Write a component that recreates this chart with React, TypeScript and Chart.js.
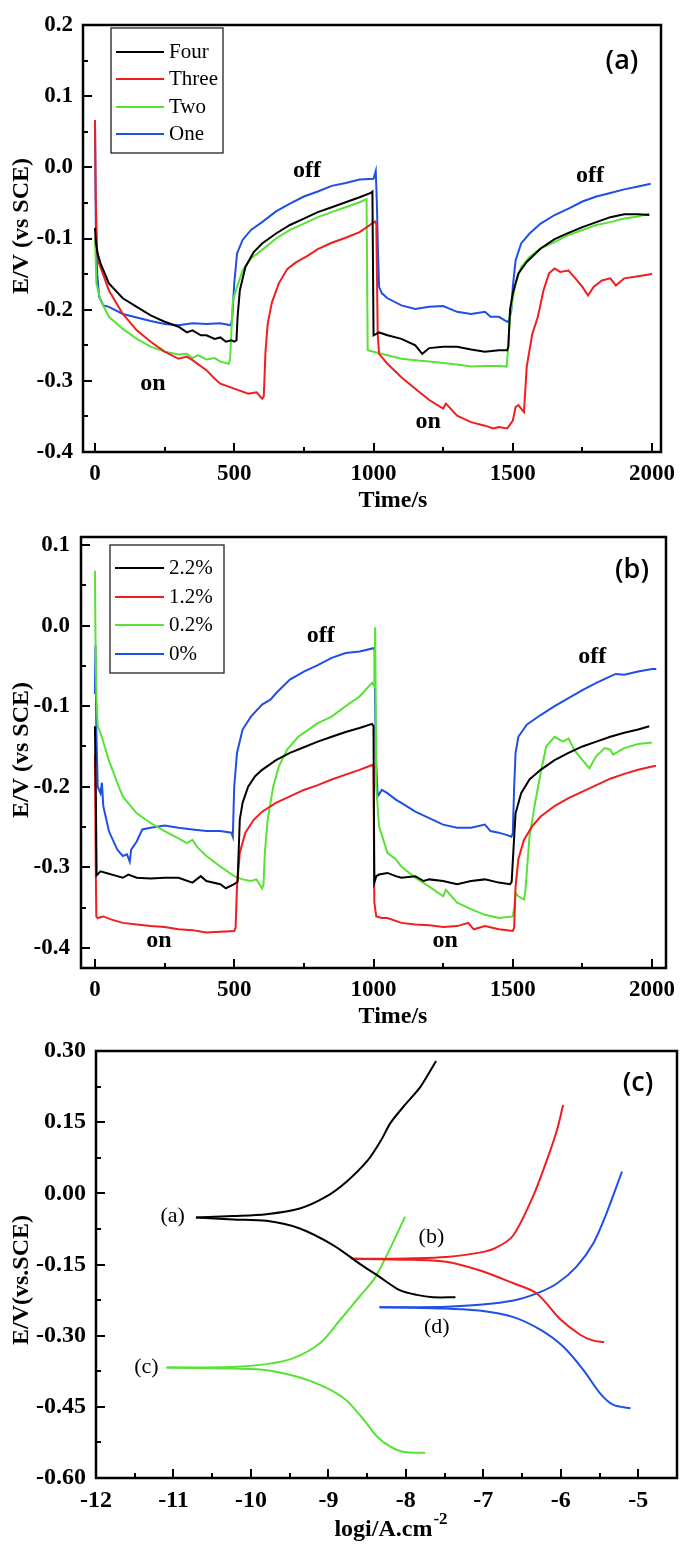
import React, { useEffect, useRef } from "react";
import { Chart, registerables } from "chart.js";

Chart.register(...registerables);

const SERIF = '"Liberation Serif", "Times New Roman", Times, serif';
const SANS = '"Open Sans", "Noto Sans", sans-serif';

const COLOR_BLACK = "#000000";
const COLOR_RED = "#f01e1e";
const COLOR_GREEN = "#58e236";
const COLOR_BLUE = "#1e50e6";

// ---------------- Panel (a) ----------------
const A_SERIES = ["Four", "Three", "Two", "One"];
const A_X_TICKS = [0, 500, 1000, 1500, 2000];
const A_X_MINOR = [250, 750, 1250, 1750];
const A_Y_TICKS = [0.2, 0.1, 0, -0.1, -0.2, -0.3, -0.4];
const A_Y_MINOR = [0.15, 0.05, -0.05, -0.15, -0.25, -0.35];

const A_FOUR_T = [0, 3, 10, 20, 50, 100, 150, 200, 250, 300, 330, 350, 380, 400, 430, 450, 470, 490, 500, 508, 512, 520, 540, 570, 600, 650, 700, 750, 800, 850, 900, 950, 990, 996, 1000, 1020, 1050, 1100, 1150, 1175, 1200, 1250, 1300, 1350, 1400, 1450, 1480, 1484, 1490, 1500, 1520, 1550, 1600, 1650, 1700, 1750, 1800, 1850, 1900, 1950, 1990];
const A_FOUR_E = [-0.085, -0.105, -0.122, -0.135, -0.163, -0.184, -0.196, -0.208, -0.217, -0.224, -0.232, -0.229, -0.236, -0.236, -0.241, -0.239, -0.245, -0.243, -0.245, -0.243, -0.21, -0.173, -0.14, -0.119, -0.107, -0.093, -0.081, -0.072, -0.063, -0.056, -0.049, -0.042, -0.036, -0.034, -0.236, -0.232, -0.236, -0.241, -0.25, -0.262, -0.254, -0.252, -0.252, -0.256, -0.259, -0.257, -0.257, -0.252, -0.2, -0.177, -0.149, -0.133, -0.114, -0.101, -0.092, -0.084, -0.077, -0.07, -0.066, -0.066, -0.067];

const A_THREE_T = [0, 3, 8, 15, 50, 100, 150, 200, 250, 300, 330, 350, 400, 430, 450, 500, 550, 580, 600, 606, 612, 620, 635, 660, 690, 720, 760, 800, 850, 900, 950, 980, 1005, 1010, 1015, 1020, 1050, 1100, 1150, 1200, 1250, 1260, 1300, 1350, 1400, 1430, 1450, 1480, 1500, 1510, 1520, 1540, 1550, 1570, 1590, 1610, 1630, 1650, 1670, 1700, 1720, 1750, 1770, 1790, 1820, 1850, 1870, 1900, 1950, 2000];
const A_THREE_E = [0.066, -0.05, -0.12, -0.135, -0.173, -0.206, -0.229, -0.245, -0.259, -0.269, -0.266, -0.271, -0.285, -0.297, -0.304, -0.311, -0.318, -0.316, -0.325, -0.322, -0.26, -0.22, -0.19, -0.163, -0.143, -0.134, -0.125, -0.115, -0.106, -0.099, -0.091, -0.083, -0.076, -0.08, -0.234, -0.262, -0.276, -0.295, -0.311, -0.327, -0.339, -0.332, -0.349, -0.358, -0.363, -0.367, -0.365, -0.367, -0.356, -0.337, -0.334, -0.344, -0.28, -0.234, -0.21, -0.173, -0.149, -0.142, -0.147, -0.145, -0.154, -0.168, -0.18, -0.168, -0.159, -0.156, -0.166, -0.156, -0.153, -0.15];

const A_TWO_T = [0, 5, 20, 50, 100, 150, 200, 250, 300, 330, 350, 370, 400, 430, 450, 480, 485, 495, 510, 530, 560, 600, 650, 700, 750, 800, 850, 900, 950, 975, 979, 1000, 1050, 1100, 1150, 1200, 1250, 1300, 1350, 1400, 1450, 1478, 1482, 1490, 1510, 1530, 1560, 1600, 1650, 1700, 1750, 1800, 1850, 1900, 1950, 1990];
const A_TWO_E = [-0.1, -0.163, -0.187, -0.21, -0.227, -0.241, -0.252, -0.259, -0.263, -0.262, -0.268, -0.264, -0.27, -0.268, -0.273, -0.276, -0.27, -0.187, -0.168, -0.145, -0.128, -0.116, -0.1, -0.088, -0.079, -0.07, -0.063, -0.056, -0.049, -0.045, -0.257, -0.259, -0.264, -0.269, -0.271, -0.273, -0.275, -0.277, -0.28, -0.279, -0.279, -0.28, -0.26, -0.206, -0.163, -0.14, -0.126, -0.114, -0.105, -0.095, -0.088, -0.081, -0.077, -0.072, -0.069, -0.065];

const A_ONE_T = [0, 3, 8, 15, 30, 50, 100, 150, 200, 250, 300, 350, 400, 450, 488, 493, 500, 510, 530, 560, 600, 650, 700, 750, 800, 850, 900, 950, 1000, 1008, 1012, 1016, 1020, 1030, 1050, 1100, 1150, 1200, 1250, 1300, 1350, 1400, 1420, 1450, 1480, 1487, 1495, 1500, 1510, 1530, 1560, 1600, 1650, 1700, 1750, 1800, 1850, 1900, 1950, 1995];
const A_ONE_E = [0.066, -0.08, -0.15, -0.182, -0.194, -0.196, -0.206, -0.211, -0.216, -0.22, -0.222, -0.219, -0.22, -0.219, -0.222, -0.21, -0.163, -0.121, -0.102, -0.088, -0.077, -0.062, -0.051, -0.041, -0.034, -0.026, -0.022, -0.017, -0.016, -0.005, -0.05, -0.12, -0.168, -0.177, -0.184, -0.194, -0.199, -0.196, -0.195, -0.203, -0.206, -0.203, -0.21, -0.21, -0.217, -0.215, -0.2, -0.168, -0.131, -0.107, -0.093, -0.079, -0.067, -0.058, -0.048, -0.041, -0.036, -0.031, -0.027, -0.023];

// ---------------- Panel (b) ----------------
const B_SERIES = ["2.2%", "1.2%", "0.2%", "0%"];
const B_X_TICKS = [0, 500, 1000, 1500, 2000];
const B_X_MINOR = [250, 750, 1250, 1750];
const B_Y_TICKS = [0.1, 0, -0.1, -0.2, -0.3, -0.4];
const B_Y_MINOR = [0.05, -0.05, -0.15, -0.25, -0.35];

const B_22_T = [0, 3, 6, 20, 50, 80, 100, 120, 150, 200, 250, 300, 350, 380, 400, 450, 470, 500, 512, 516, 520, 530, 550, 575, 600, 650, 700, 750, 800, 850, 900, 950, 995, 1000, 1003, 1010, 1020, 1050, 1080, 1100, 1150, 1180, 1200, 1250, 1300, 1350, 1400, 1450, 1490, 1496, 1505, 1510, 1530, 1560, 1600, 1650, 1700, 1750, 1800, 1850, 1900, 1950, 1990];
const B_22_E = [-0.125, -0.2, -0.31, -0.305, -0.308, -0.311, -0.313, -0.309, -0.313, -0.314, -0.313, -0.313, -0.319, -0.311, -0.317, -0.321, -0.326, -0.321, -0.318, -0.28, -0.241, -0.22, -0.2, -0.187, -0.179, -0.167, -0.158, -0.151, -0.144, -0.138, -0.132, -0.127, -0.122, -0.125, -0.319, -0.311, -0.309, -0.307, -0.311, -0.313, -0.311, -0.317, -0.315, -0.317, -0.321, -0.317, -0.315, -0.319, -0.321, -0.318, -0.262, -0.233, -0.208, -0.191, -0.179, -0.167, -0.158, -0.15, -0.144, -0.138, -0.133, -0.129, -0.125];

const B_12_T = [0, 3, 5, 10, 30, 60, 100, 150, 200, 250, 300, 350, 400, 450, 500, 505, 510, 520, 540, 570, 600, 650, 700, 750, 800, 850, 900, 950, 995, 1000, 1003, 1010, 1030, 1050, 1100, 1150, 1200, 1250, 1300, 1340, 1360, 1400, 1450, 1500, 1505, 1510, 1520, 1540, 1570, 1600, 1650, 1700, 1750, 1800, 1850, 1900, 1950, 2000, 2014];
const B_12_E = [-0.16, -0.3, -0.361, -0.363, -0.361, -0.365, -0.369, -0.371, -0.373, -0.374, -0.377, -0.378, -0.381, -0.38, -0.379, -0.375, -0.324, -0.282, -0.257, -0.241, -0.231, -0.22, -0.212, -0.204, -0.198, -0.191, -0.185, -0.179, -0.173, -0.175, -0.344, -0.361, -0.363, -0.363, -0.369, -0.371, -0.372, -0.374, -0.373, -0.369, -0.377, -0.373, -0.377, -0.379, -0.375, -0.324, -0.29, -0.266, -0.249, -0.237, -0.224, -0.214, -0.206, -0.198, -0.19, -0.184, -0.179, -0.175, -0.174];

const B_02_T = [0, 2, 5, 10, 20, 50, 80, 100, 150, 200, 250, 300, 330, 350, 370, 400, 450, 500, 530, 560, 580, 600, 605, 610, 620, 640, 660, 690, 730, 800, 850, 900, 950, 995, 1003, 1006, 1010, 1020, 1050, 1080, 1100, 1150, 1200, 1250, 1260, 1300, 1350, 1400, 1450, 1500, 1505, 1510, 1520, 1540, 1545, 1560, 1580, 1600, 1620, 1650, 1680, 1700, 1720, 1750, 1775, 1800, 1830, 1850, 1860, 1900, 1950, 2000];
const B_02_E = [0.068, -0.014, -0.084, -0.125, -0.133, -0.167, -0.195, -0.212, -0.233, -0.245, -0.255, -0.264, -0.27, -0.266, -0.276, -0.286, -0.299, -0.311, -0.315, -0.317, -0.315, -0.326, -0.322, -0.282, -0.241, -0.2, -0.175, -0.154, -0.138, -0.121, -0.113, -0.1, -0.088, -0.071, -0.075, -0.002, -0.2, -0.249, -0.282, -0.29, -0.299, -0.313, -0.324, -0.336, -0.328, -0.344, -0.352, -0.359, -0.363, -0.361, -0.35, -0.332, -0.336, -0.34, -0.33, -0.262, -0.22, -0.183, -0.15, -0.138, -0.144, -0.14, -0.154, -0.167, -0.177, -0.162, -0.152, -0.154, -0.16, -0.152, -0.147, -0.145];

const B_0_T = [0, 2, 5, 10, 20, 25, 30, 50, 80, 100, 115, 125, 130, 150, 170, 200, 250, 300, 350, 400, 450, 490, 495, 500, 510, 530, 560, 600, 630, 650, 700, 750, 800, 850, 900, 950, 1000, 1004, 1008, 1015, 1030, 1050, 1080, 1100, 1150, 1200, 1250, 1300, 1350, 1400, 1420, 1450, 1480, 1495, 1500, 1505, 1510, 1520, 1550, 1600, 1650, 1700, 1750, 1800, 1850, 1870, 1900, 1950, 2000, 2015];
const B_0_E = [-0.085, -0.025, -0.13, -0.2, -0.208, -0.195, -0.224, -0.255, -0.278, -0.286, -0.284, -0.293, -0.278, -0.268, -0.253, -0.251, -0.248, -0.251, -0.253, -0.255, -0.255, -0.257, -0.262, -0.2, -0.158, -0.129, -0.113, -0.098, -0.092, -0.084, -0.067, -0.057, -0.049, -0.04, -0.034, -0.032, -0.028, -0.03, -0.158, -0.212, -0.204, -0.208, -0.216, -0.22, -0.231, -0.239, -0.247, -0.251, -0.251, -0.247, -0.255, -0.257, -0.26, -0.262, -0.258, -0.2, -0.158, -0.138, -0.123, -0.111, -0.1, -0.09, -0.08, -0.071, -0.063, -0.06, -0.061, -0.057, -0.054, -0.054];

// ---------------- Panel (c) ----------------
const C_X_TICKS = [-12, -11, -10, -9, -8, -7, -6, -5];
const C_X_MINOR = [-11.5, -10.5, -9.5, -8.5, -7.5, -6.5, -5.5];
const C_Y_TICKS = [0.3, 0.15, 0, -0.15, -0.3, -0.45, -0.6];
const C_Y_MINOR = [0.225, 0.075, -0.075, -0.225, -0.375, -0.525];

const C_A_ANODIC_X = [-10.71, -10.23, -9.8, -9.37, -9.03, -8.77, -8.49, -8.32, -8.2, -8.03, -7.81, -7.61];
const C_A_ANODIC_Y = [-0.051, -0.048, -0.044, -0.032, -0.007, 0.024, 0.07, 0.112, 0.148, 0.183, 0.225, 0.279];
const C_A_CATHODIC_X = [-10.71, -10.23, -9.8, -9.37, -8.94, -8.6, -8.34, -8.08, -7.86, -7.65, -7.36];
const C_A_CATHODIC_Y = [-0.051, -0.055, -0.058, -0.074, -0.109, -0.148, -0.176, -0.204, -0.214, -0.219, -0.219];

const C_B_ANODIC_X = [-8.7, -8.34, -7.91, -7.48, -7.05, -6.84, -6.62, -6.36, -6.18, -6.05, -5.97];
const C_B_ANODIC_Y = [-0.138, -0.138, -0.137, -0.134, -0.125, -0.115, -0.09, -0.007, 0.07, 0.133, 0.186];
const C_B_CATHODIC_X = [-8.7, -8.34, -7.91, -7.48, -7.05, -6.62, -6.31, -6.01, -5.75, -5.59, -5.44];
const C_B_CATHODIC_Y = [-0.138, -0.139, -0.14, -0.144, -0.162, -0.189, -0.211, -0.265, -0.298, -0.31, -0.314];

const C_C_ANODIC_X = [-11.09, -10.24, -9.8, -9.46, -9.11, -8.85, -8.6, -8.42, -8.3, -8.17, -8.01];
const C_C_ANODIC_Y = [-0.367, -0.366, -0.36, -0.348, -0.316, -0.267, -0.218, -0.183, -0.148, -0.105, -0.049];
const C_C_CATHODIC_X = [-11.09, -10.41, -9.85, -9.39, -9.05, -8.77, -8.54, -8.37, -8.2, -8.03, -7.75];
const C_C_CATHODIC_Y = [-0.367, -0.369, -0.372, -0.387, -0.408, -0.436, -0.478, -0.513, -0.534, -0.545, -0.547];

const C_D_ANODIC_X = [-8.34, -7.91, -7.48, -7.05, -6.61, -6.31, -6.05, -5.8, -5.58, -5.41, -5.21];
const C_D_ANODIC_Y = [-0.24, -0.24, -0.239, -0.235, -0.226, -0.211, -0.19, -0.155, -0.105, -0.042, 0.046];
const C_D_CATHODIC_X = [-8.34, -7.91, -7.48, -7.05, -6.61, -6.26, -5.97, -5.71, -5.49, -5.32, -5.1];
const C_D_CATHODIC_Y = [-0.24, -0.241, -0.243, -0.247, -0.261, -0.288, -0.323, -0.372, -0.422, -0.446, -0.453];

// ---------------- helpers ----------------
function series(label: string, color: string, xs: number[], ys: number[], tension = 0) {
  return {
    label,
    data: xs.map((x, i) => ({ x, y: ys[i] })),
    borderColor: color,
    backgroundColor: color,
    borderWidth: 2,
    pointRadius: 0,
    showLine: true,
    fill: false,
    tension,
  };
}

const paperFrame = {
  id: "paperFrame",
  afterDraw(chart: any) {
    const o = chart.options.plugins.paperFrame;
    if (!o) return;
    const ctx = chart.ctx;
    const a = chart.chartArea;
    const sx = chart.scales.x;
    const sy = chart.scales.y;
    ctx.save();
    ctx.strokeStyle = "#000";
    ctx.fillStyle = "#000";
    ctx.lineWidth = 2;
    const tickX = (vals: number[], len: number) => {
      for (const v of vals) {
        const p = Math.round(sx.getPixelForValue(v));
        ctx.beginPath();
        ctx.moveTo(p, a.bottom);
        ctx.lineTo(p, a.bottom - len);
        ctx.stroke();
      }
    };
    const tickY = (vals: number[], len: number) => {
      for (const v of vals) {
        const p = Math.round(sy.getPixelForValue(v));
        ctx.beginPath();
        ctx.moveTo(a.left, p);
        ctx.lineTo(a.left + len, p);
        ctx.stroke();
      }
    };
    tickX(o.xMajor, 9);
    tickX(o.xMinor, 5);
    tickY(o.yMajor, 9);
    tickY(o.yMinor, 5);
    ctx.lineWidth = 2.5;
    ctx.strokeRect(a.left, a.top, a.right - a.left, a.bottom - a.top);

    // legend
    if (o.legend) {
      const L = o.legend;
      ctx.lineWidth = 1.3;
      ctx.strokeStyle = "#222";
      ctx.strokeRect(L.left, L.top, L.right - L.left, L.bottom - L.top);
      ctx.font = L.font;
      ctx.textAlign = "left";
      ctx.textBaseline = "middle";
      chart.data.datasets.forEach((d: any, i: number) => {
        const y = L.rowY[i];
        ctx.strokeStyle = d.borderColor;
        ctx.lineWidth = 2;
        ctx.beginPath();
        ctx.moveTo(L.lineX1, y);
        ctx.lineTo(L.lineX2, y);
        ctx.stroke();
        ctx.fillStyle = "#000";
        ctx.fillText(d.label, L.textX, y);
      });
    }

    // notes placed at data coordinates
    ctx.fillStyle = "#000";
    ctx.textAlign = "center";
    for (const n of o.notes) {
      ctx.font = n.font;
      ctx.textBaseline = n.baseline;
      ctx.fillText(n.text, sx.getPixelForValue(n.x), sy.getPixelForValue(n.y));
    }

    // panel label
    if (o.panelLabel) {
      const P = o.panelLabel;
      ctx.font = P.font;
      ctx.textAlign = "center";
      ctx.textBaseline = "middle";
      ctx.fillText(P.text, P.x, P.y);
    }

    // x title
    if (o.xTitle) {
      const T = o.xTitle;
      ctx.textBaseline = "middle";
      if (T.sup) {
        ctx.font = T.font;
        const wm = ctx.measureText(T.text).width;
        ctx.font = T.supFont;
        const ws = ctx.measureText(T.sup).width;
        const start = T.x - (wm + ws + 1) / 2;
        ctx.textAlign = "left";
        ctx.font = T.font;
        ctx.fillText(T.text, start, T.y);
        ctx.font = T.supFont;
        ctx.fillText(T.sup, start + wm + 1, T.y - T.supRise);
      } else {
        ctx.font = T.font;
        ctx.textAlign = "center";
        ctx.fillText(T.text, T.x, T.y);
      }
    }

    // y title
    if (o.yTitle) {
      const T = o.yTitle;
      ctx.save();
      ctx.translate(T.x, T.y);
      ctx.rotate(-Math.PI / 2);
      ctx.font = T.font;
      ctx.textAlign = "center";
      ctx.textBaseline = "middle";
      ctx.fillText(T.text, 0, 0);
      ctx.restore();
    }
    ctx.restore();
  },
};

function buildConfig(p: any) {
  return {
    type: "scatter",
    data: { datasets: p.datasets },
    options: {
      responsive: false,
      animation: false,
      events: [],
      layout: { padding: { left: 0, right: p.padRight, top: p.padTop, bottom: 0 } },
      plugins: {
        legend: { display: false },
        tooltip: { enabled: false },
        title: { display: false },
        paperFrame: p.frame,
      },
      scales: {
        x: {
          type: "linear",
          position: "bottom",
          min: p.xMin,
          max: p.xMax,
          grid: { display: false, drawTicks: false },
          border: { display: false },
          ticks: {
            autoSkip: false,
            maxRotation: 0,
            minRotation: 0,
            padding: p.xTickPad,
            color: "#000",
            font: { family: SERIF, size: p.xTickSize, weight: "bold" },
            callback: (v: any) => p.xFmt(Number(v)),
          },
          afterBuildTicks: (s: any) => {
            s.ticks = p.xTicks.map((v: number) => ({ value: v }));
          },
          afterFit: (s: any) => {
            s.height = p.xAxisH;
            s.paddingLeft = 0;
            s.paddingRight = 0;
          },
        },
        y: {
          type: "linear",
          position: "left",
          min: p.yMin,
          max: p.yMax,
          grid: { display: false, drawTicks: false },
          border: { display: false },
          ticks: {
            autoSkip: false,
            padding: p.yTickPad,
            color: "#000",
            font: { family: SERIF, size: p.yTickSize, weight: "bold" },
            callback: (v: any) => p.yFmt(Number(v)),
          },
          afterBuildTicks: (s: any) => {
            s.ticks = p.yTicks.map((v: number) => ({ value: v }));
          },
          afterFit: (s: any) => {
            s.width = p.yAxisW;
            s.paddingTop = 0;
            s.paddingBottom = 0;
          },
        },
      },
    },
    plugins: [paperFrame],
  } as any;
}

const BOLD_NOTE = `bold 24px ${SERIF}`;
const REG_NOTE = `22px ${SERIF}`;
const PANEL_FONT = `600 27px ${SANS}`;

function buildA() {
  return buildConfig({
    datasets: [
      series(A_SERIES[0], COLOR_BLACK, A_FOUR_T, A_FOUR_E),
      series(A_SERIES[1], COLOR_RED, A_THREE_T, A_THREE_E),
      series(A_SERIES[2], COLOR_GREEN, A_TWO_T, A_TWO_E),
      series(A_SERIES[3], COLOR_BLUE, A_ONE_T, A_ONE_E),
    ],
    padTop: 25,
    padRight: 24,
    xAxisH: 68,
    yAxisW: 83,
    xMin: -43,
    xMax: 2032,
    yMin: -0.4,
    yMax: 0.2,
    xTicks: A_X_TICKS,
    yTicks: A_Y_TICKS,
    xTickSize: 23,
    yTickSize: 23,
    xTickPad: 8,
    yTickPad: 10,
    xFmt: (v: number) => String(v),
    yFmt: (v: number) => v.toFixed(1),
    frame: {
      xMajor: A_X_TICKS,
      xMinor: A_X_MINOR,
      yMajor: A_Y_TICKS,
      yMinor: A_Y_MINOR,
      legend: { left: 111, top: 28, right: 223, bottom: 153, rowY: [52, 79, 107, 134], lineX1: 116, lineX2: 164, textX: 169, font: `21px ${SERIF}` },
      notes: [
        { text: "off", x: 761, y: -0.013, font: BOLD_NOTE, baseline: "alphabetic" },
        { text: "off", x: 1777, y: -0.02, font: BOLD_NOTE, baseline: "alphabetic" },
        { text: "on", x: 208, y: -0.313, font: BOLD_NOTE, baseline: "alphabetic" },
        { text: "on", x: 1196, y: -0.366, font: BOLD_NOTE, baseline: "alphabetic" },
      ],
      panelLabel: { text: "(a)", x: 622, y: 61, font: PANEL_FONT },
      xTitle: { text: "Time/s", x: 393, y: 501, font: `bold 24px ${SERIF}` },
      yTitle: { text: "E/V (vs SCE)", x: 22, y: 226, font: `bold 24px ${SERIF}` },
    },
  });
}

function buildB() {
  return buildConfig({
    datasets: [
      series(B_SERIES[0], COLOR_BLACK, B_22_T, B_22_E),
      series(B_SERIES[1], COLOR_RED, B_12_T, B_12_E),
      series(B_SERIES[2], COLOR_GREEN, B_02_T, B_02_E),
      series(B_SERIES[3], COLOR_BLUE, B_0_T, B_0_E),
    ],
    padTop: 17,
    padRight: 19,
    xAxisH: 72,
    yAxisW: 81,
    xMin: -50,
    xMax: 2050,
    yMin: -0.425,
    yMax: 0.11,
    xTicks: B_X_TICKS,
    yTicks: B_Y_TICKS,
    xTickSize: 23,
    yTickSize: 23,
    xTickPad: 8,
    yTickPad: 11,
    xFmt: (v: number) => String(v),
    yFmt: (v: number) => v.toFixed(1),
    frame: {
      xMajor: B_X_TICKS,
      xMinor: B_X_MINOR,
      yMajor: B_Y_TICKS,
      yMinor: B_Y_MINOR,
      legend: { left: 110, top: 25, right: 224, bottom: 153, rowY: [48, 77, 105, 134], lineX1: 115, lineX2: 164, textX: 169, font: `21px ${SERIF}` },
      notes: [
        { text: "off", x: 811, y: -0.02, font: BOLD_NOTE, baseline: "alphabetic" },
        { text: "off", x: 1785, y: -0.047, font: BOLD_NOTE, baseline: "alphabetic" },
        { text: "on", x: 230, y: -0.399, font: BOLD_NOTE, baseline: "alphabetic" },
        { text: "on", x: 1257, y: -0.399, font: BOLD_NOTE, baseline: "alphabetic" },
      ],
      panelLabel: { text: "(b)", x: 632, y: 50, font: PANEL_FONT },
      xTitle: { text: "Time/s", x: 393, y: 497, font: `bold 24px ${SERIF}` },
      yTitle: { text: "E/V (vs SCE)", x: 22, y: 230, font: `bold 24px ${SERIF}` },
    },
  });
}

function buildC() {
  const t = 0.3;
  return buildConfig({
    datasets: [
      series("(a)", COLOR_BLACK, C_A_ANODIC_X, C_A_ANODIC_Y, t),
      series("(a)", COLOR_BLACK, C_A_CATHODIC_X, C_A_CATHODIC_Y, t),
      series("(b)", COLOR_RED, C_B_ANODIC_X, C_B_ANODIC_Y, t),
      series("(b)", COLOR_RED, C_B_CATHODIC_X, C_B_CATHODIC_Y, t),
      series("(c)", COLOR_GREEN, C_C_ANODIC_X, C_C_ANODIC_Y, t),
      series("(c)", COLOR_GREEN, C_C_CATHODIC_X, C_C_CATHODIC_Y, t),
      series("(d)", COLOR_BLUE, C_D_ANODIC_X, C_D_ANODIC_Y, t),
      series("(d)", COLOR_BLUE, C_D_CATHODIC_X, C_D_CATHODIC_Y, t),
    ],
    padTop: 11,
    padRight: 8,
    xAxisH: 68,
    yAxisW: 96,
    xMin: -12,
    xMax: -4.5,
    yMin: -0.6,
    yMax: 0.3,
    xTicks: C_X_TICKS,
    yTicks: C_Y_TICKS,
    xTickSize: 24,
    yTickSize: 24,
    xTickPad: 8,
    yTickPad: 10,
    xFmt: (v: number) => String(v),
    yFmt: (v: number) => v.toFixed(2),
    frame: {
      xMajor: C_X_TICKS,
      xMinor: C_X_MINOR,
      yMajor: C_Y_TICKS,
      yMinor: C_Y_MINOR,
      legend: null,
      notes: [
        { text: "(a)", x: -11.01, y: -0.048, font: REG_NOTE, baseline: "middle" },
        { text: "(b)", x: -7.67, y: -0.093, font: REG_NOTE, baseline: "middle" },
        { text: "(c)", x: -11.35, y: -0.367, font: REG_NOTE, baseline: "middle" },
        { text: "(d)", x: -7.6, y: -0.283, font: REG_NOTE, baseline: "middle" },
      ],
      panelLabel: { text: "(c)", x: 638, y: 43, font: PANEL_FONT },
      xTitle: { text: "logi/A.cm", sup: "-2", x: 391, y: 490, font: `bold 24px ${SERIF}`, supFont: `bold 17px ${SERIF}`, supRise: 10 },
      yTitle: { text: "E/V(vs.SCE)", x: 22, y: 240, font: `bold 24px ${SERIF}` },
    },
  });
}

function Panel({ top, height, build }: { top: number; height: number; build: () => any }) {
  const ref = useRef<HTMLCanvasElement | null>(null);
  useEffect(() => {
    if (!ref.current) return;
    const chart = new Chart(ref.current, build());
    return () => chart.destroy();
  }, [build]);
  return (
    <canvas
      ref={ref}
      width={685}
      height={height}
      style={{ position: "absolute", left: 0, top, width: 685, height, display: "block" }}
    />
  );
}

export default function App() {
  return (
    <div style={{ position: "absolute", left: 0, top: 0, width: 685, height: 1546, background: "#ffffff", overflow: "hidden" }}>
      <Panel top={0} height={520} build={buildA} />
      <Panel top={520} height={520} build={buildB} />
      <Panel top={1040} height={506} build={buildC} />
    </div>
  );
}
